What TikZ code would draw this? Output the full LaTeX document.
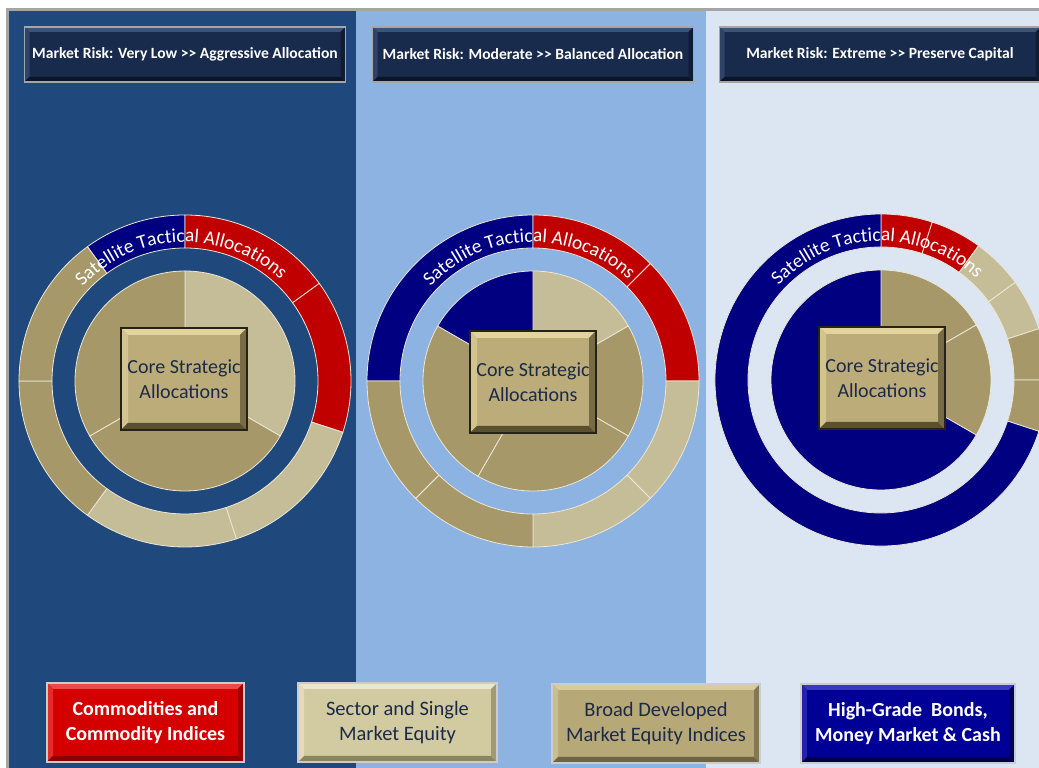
\documentclass[tikz,border=0pt]{standalone}
\usepackage{fontspec}
\setmainfont{Carlito}
\usetikzlibrary{decorations.text}

\definecolor{panelA}{HTML}{1F497D}
\definecolor{panelB}{HTML}{8DB3E2}
\definecolor{panelC}{HTML}{DCE6F2}
\definecolor{rimgray}{HTML}{A5A5A5}
\definecolor{riskred}{HTML}{C00000}
\definecolor{bondnavy}{HTML}{000080}
\definecolor{lighttan}{HTML}{C4BD97}
\definecolor{darktan}{HTML}{A69868}
\definecolor{seamcol}{HTML}{ECE7D6}
\definecolor{inkblue}{HTML}{1B2A49}
\definecolor{titleface}{HTML}{182B4C}
\definecolor{titlelight}{HTML}{3C5379}
\definecolor{titledark}{HTML}{0C1528}
\definecolor{coreface}{HTML}{BCAC7A}
\definecolor{corelight}{HTML}{E2D49C}
\definecolor{coredark}{HTML}{5A5030}
\definecolor{keyred}{HTML}{D40000}
\definecolor{keyredlight}{HTML}{F04848}
\definecolor{keyreddark}{HTML}{8A0000}
\definecolor{keysector}{HTML}{D2CBA1}
\definecolor{keysectorlight}{HTML}{ECE7CC}
\definecolor{keysectordark}{HTML}{8C8562}
\definecolor{keybroad}{HTML}{B7A878}
\definecolor{keybroadlight}{HTML}{D8CC9C}
\definecolor{keybroaddark}{HTML}{6E6444}
\definecolor{keynavy}{HTML}{000096}
\definecolor{keynavylight}{HTML}{3838C0}
\definecolor{keynavydark}{HTML}{00004A}

\newcommand{\ringfont}{\fontsize{19.5}{19.5}\selectfont}
% one piece of the outer ring / of the inner pie
\newcommand{\ringpart}[4]{\filldraw[seam, fill=#4] ([shift={(#2:166pt)}]#1) arc[start angle=#2, end angle=#3, radius=166pt] -- ([shift={(#3:133pt)}]#1) arc[start angle=#3, end angle=#2, radius=133pt] -- cycle;}
\newcommand{\piepart}[4]{\filldraw[seam, fill=#4] (#1) -- ([shift={(#2:110pt)}]#1) arc[start angle=#2, end angle=#3, radius=110pt] -- cycle;}

\tikzset{
	seam/.style={draw=seamcol, line width=0.8pt},
	bevelbox/.style n args={4}{rectangle, fill=#1, inner sep=0pt, align=center,
		path picture={
			\fill[#2] (path picture bounding box.north west) -- (path picture bounding box.north east) -- ([shift={(-#4,-#4)}]path picture bounding box.north east) -- ([shift={(#4,-#4)}]path picture bounding box.north west) -- cycle;
			\fill[#2!60!#1] (path picture bounding box.north west) -- ([shift={(#4,-#4)}]path picture bounding box.north west) -- ([shift={(#4,#4)}]path picture bounding box.south west) -- (path picture bounding box.south west) -- cycle;
			\fill[#3] (path picture bounding box.south west) -- ([shift={(#4,#4)}]path picture bounding box.south west) -- ([shift={(-#4,#4)}]path picture bounding box.south east) -- (path picture bounding box.south east) -- cycle;
			\fill[#3!70!#1] (path picture bounding box.north east) -- (path picture bounding box.south east) -- ([shift={(-#4,#4)}]path picture bounding box.south east) -- ([shift={(-#4,-#4)}]path picture bounding box.north east) -- cycle;
		}},
	titlebox/.style={bevelbox={titleface}{titlelight}{titledark}{5pt}, draw=rimgray, line width=1.5pt,
		minimum width=321pt, minimum height=55pt, text=white, font=\bfseries\fontsize{15.6}{18}\selectfont},
	corebox/.style={bevelbox={coreface}{corelight}{coredark}{7pt}, draw=black!80!coreface, line width=1.2pt,
		minimum width=126pt, minimum height=102pt, text=inkblue, font=\fontsize{20}{25}\selectfont},
	keybox/.style n args={3}{bevelbox={#1}{#2}{#3}{6pt}, draw=black!20, line width=1.5pt,
		minimum height=79pt, font=\fontsize{20.5}{25}\selectfont},
	keybold/.style={text=white, font=\bfseries\fontsize{20}{25}\selectfont},
	ringtext/.style={decorate, decoration={text along path, text align=center, text color=white,
		text={|\ringfont|Satellite Tactical Allocations}}}
}

\begin{document}
\begin{tikzpicture}[x=1pt, y=1pt]
	\useasboundingbox (0,0) rectangle (1039,768);
	\clip (0,0) rectangle (1039,768);

	% backgrounds
	\fill[white] (0,0) rectangle (1039,768);
	\fill[rimgray] (6,0) rectangle (1039,760);
	\fill[panelA] (9,0) rectangle (356,757);
	\fill[panelB] (356,0) rectangle (706,757);
	\fill[panelC] (706,0) rectangle (1039,757);

	\coordinate (c1) at (185,387);
	\coordinate (c2) at (533,387);
	\coordinate (c3) at (881,388);

	% very low risk
	\ringpart{c1}{126}{90}{bondnavy}
	\ringpart{c1}{90}{36}{riskred}
	\ringpart{c1}{36}{-18}{riskred}
	\ringpart{c1}{-18}{-72}{lighttan}
	\ringpart{c1}{-72}{-126}{lighttan}
	\ringpart{c1}{-126}{-180}{darktan}
	\ringpart{c1}{180}{126}{darktan}
	\piepart{c1}{90}{-30}{lighttan}
	\piepart{c1}{-30}{-150}{darktan}
	\piepart{c1}{210}{90}{darktan}
	\path[ringtext] ([shift={(182:139pt)}]c1) arc[start angle=182, end angle=2, radius=139pt];

	% moderate risk
	\ringpart{c2}{180}{90}{bondnavy}
	\ringpart{c2}{90}{45}{riskred}
	\ringpart{c2}{45}{0}{riskred}
	\ringpart{c2}{0}{-45}{lighttan}
	\ringpart{c2}{-45}{-90}{lighttan}
	\ringpart{c2}{-90}{-135}{darktan}
	\ringpart{c2}{-135}{-180}{darktan}
	\piepart{c2}{90}{30}{lighttan}
	\piepart{c2}{30}{-30}{darktan}
	\piepart{c2}{-30}{-120}{darktan}
	\piepart{c2}{-120}{-210}{darktan}
	\piepart{c2}{150}{90}{bondnavy}
	\path[ringtext] ([shift={(182:139pt)}]c2) arc[start angle=182, end angle=2, radius=139pt];

	% extreme risk
	\ringpart{c3}{90}{72}{riskred}
	\ringpart{c3}{72}{54}{riskred}
	\ringpart{c3}{54}{36}{lighttan}
	\ringpart{c3}{36}{18}{lighttan}
	\ringpart{c3}{18}{0}{darktan}
	\ringpart{c3}{0}{-18}{darktan}
	\ringpart{c3}{-18}{-270}{bondnavy}
	\piepart{c3}{90}{30}{darktan}
	\piepart{c3}{30}{-30}{darktan}
	\piepart{c3}{-30}{-270}{bondnavy}
	\path[ringtext] ([shift={(182:139pt)}]c3) arc[start angle=182, end angle=2, radius=139pt];

	\node[corebox] (core1) at (184,389) {Core Strategic\\Allocations};
	\node[corebox] (core2) at (533,386) {Core Strategic\\Allocations};
	\node[corebox] (core3) at (882,390) {Core Strategic\\Allocations};

	\node[titlebox] (risk1) at (185,713.5) {Market Risk: Very Low >\kern0pt> Aggressive Allocation};
	\node[titlebox] (risk2) at (533,713.5) {Market Risk: Moderate >\kern0pt> Balanced Allocation};
	\node[titlebox] (risk3) at (880,713.5) {Market Risk: Extreme >\kern0pt> Preserve Capital};

	% legend
	\node[keybox={keyred}{keyredlight}{keyreddark}, keybold, minimum width=197pt] (commod) at (145.5,45.5) {Commodities and\\Commodity Indices};
	\node[keybox={keysector}{keysectorlight}{keysectordark}, minimum width=199pt, text=inkblue] (sector) at (397.5,45.5) {Sector and Single\\Market Equity};
	\node[keybox={keybroad}{keybroadlight}{keybroaddark}, minimum width=208pt, text=inkblue] (broad) at (656,44.5) {Broad Developed\\Market Equity Indices};
	\node[keybox={keynavy}{keynavylight}{keynavydark}, keybold, minimum width=214pt] (bonds) at (908,44.5) {High-Grade~ Bonds,\\Money Market \& Cash};
\end{tikzpicture}
\end{document}
